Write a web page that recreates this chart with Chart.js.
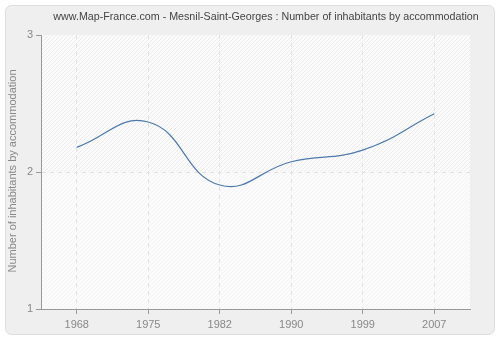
<!DOCTYPE html>
<html><head><meta charset="utf-8">
<script src="https://cdn.jsdelivr.net/npm/chart.js@4"></script>
<style>html,body{margin:0;padding:0;background:#fff}canvas{display:block}</style>
</head><body>
<div style="width:500px;height:340px"><canvas id="c" width="500" height="340"></canvas></div>
<script>
const titleText = "www.Map-France.com - Mesnil-Saint-Georges : Number of inhabitants by accommodation";
const yTitle = "Number of inhabitants by accommodation";
const years = ["1968","1975","1982","1990","1999","2007"];
const values = [2.18, 2.365, 1.905, 2.075, 2.16, 2.425];
const yTicks = [1, 2, 3];
const FONT = "'Liberation Sans', Arial, sans-serif";

function hatch(bg, line){
  const n = 4;
  const p = document.createElement('canvas'); p.width = n; p.height = n;
  const g = p.getContext('2d');
  g.fillStyle = bg; g.fillRect(0,0,n,n);
  g.strokeStyle = line; g.lineWidth = 1;
  g.beginPath(); g.moveTo(0,n); g.lineTo(n,0); g.moveTo(-n/2,n/2); g.lineTo(n/2,-n/2); g.moveTo(n/2,n*1.5); g.lineTo(n*1.5,n/2); g.stroke();
  return p;
}

const decor = {
  id:'decor',
  beforeDraw(chart){
    const ctx = chart.ctx; const a = chart.chartArea;
    ctx.save();
    ctx.fillStyle = '#fff'; ctx.fillRect(0,0,500,340);
    ctx.beginPath();
    if (ctx.roundRect) ctx.roundRect(5.5,5.5,489,329,6); else ctx.rect(5.5,5.5,489,329);
    ctx.fillStyle = '#efefef'; ctx.fill();
    ctx.strokeStyle = '#dedede'; ctx.lineWidth = 1; ctx.stroke();
    const y2 = chart.scales.y.getPixelForValue(2);
    ctx.fillStyle = ctx.createPattern(hatch('#fbfbfb','#ececec'),'repeat');
    ctx.fillRect(a.left, a.top, a.right-a.left, y2-a.top);
    ctx.fillStyle = ctx.createPattern(hatch('#fbfbfb','#f4f4f4'),'repeat');
    ctx.fillRect(a.left, y2, a.right-a.left, a.bottom-y2);
    ctx.fillStyle = '#444'; ctx.font = '10.7px ' + FONT; ctx.textAlign='center'; ctx.textBaseline='middle';
    ctx.fillText(titleText, 266, 17);
    ctx.save(); ctx.translate(13, 171); ctx.rotate(-Math.PI/2);
    ctx.font = '11px ' + FONT;
    ctx.fillStyle = '#888'; ctx.fillText(yTitle, 0, 0); ctx.restore();
    ctx.restore();
  }
};

new Chart(document.getElementById('c'), {
  type:'line',
  data:{ labels: years, datasets:[{ data: values, borderColor:'#4f7aab', borderWidth:1.2, pointRadius:0, tension:0.45, fill:false }]},
  options:{
    responsive:false, animation:false, devicePixelRatio:1,
    layout:{ padding:{ top:35, right:30, bottom:0, left:0 } },
    plugins:{ legend:{display:false}, tooltip:{enabled:false}, title:{display:false} },
    scales:{
      x:{ type:'category', offset:true,
        grid:{ offset:false, color:'#e2e2e2', tickColor:'#999', tickLength:5, drawOnChartArea:true },
        border:{ color:'#999', width:1, dash:[4,4] },
        ticks:{ color:'#888', font:{ family: FONT, size:11 }, padding:4, maxRotation:0 },
        afterFit(s){ s.height = 31; }
      },
      y:{ min:1, max:3, afterBuildTicks(s){ s.ticks = yTicks.map(v=>({value:v})); },
        grid:{ color:(c)=> c.tick && c.tick.value===2 ? '#e2e2e2' : 'rgba(0,0,0,0)', tickColor:'#999', tickLength:5 },
        border:{ color:'#999', width:1, dash:[4,4] },
        ticks:{ color:'#888', font:{ family: FONT, size:11 }, padding:3 },
        afterFit(s){ s.width = 41; }
      }
    }
  },
  plugins:[decor]
});
</script>
</body></html>
